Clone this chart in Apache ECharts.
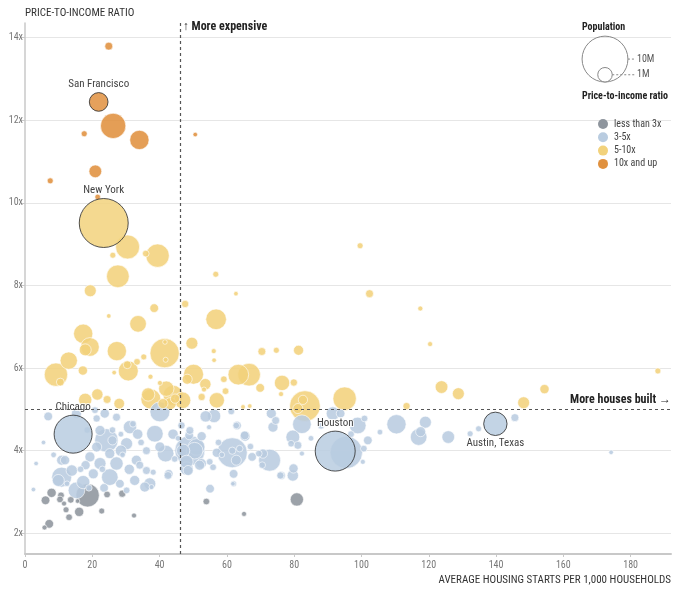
<!DOCTYPE html>
<html>
<head>
<meta charset="utf-8">
<style>
  html, body { margin: 0; padding: 0; background: #fff; }
  #chart { width: 680px; height: 594px; }
</style>
<script src="https://cdn.jsdelivr.net/npm/echarts@6/dist/echarts.min.js"></script>
</head>
<body>
<div id="chart"></div>
<script type="text/javascript">
    // [housing starts per 1,000 households, price-to-income ratio, population in millions]
    var metros = [
        // 10x and up
        [24.9, 13.79, 0.30], [26.2, 11.86, 3.05], [17.6, 11.67, 0.17], [34.0, 11.52, 1.77],
        [50.6, 11.65, 0.10], [20.9, 10.76, 0.77], [7.5, 10.53, 0.17], [21.6, 10.14, 0.15],
        // 5-10x
        [30.5, 8.93, 2.74], [39.4, 8.72, 2.6], [35.9, 8.77, 0.21], [26.1, 8.73, 0.17],
        [27.6, 8.22, 2.45], [19.4, 7.87, 0.68], [56.7, 8.27, 0.17], [62.7, 7.8, 0.1],
        [38.4, 7.45, 0.36], [47.6, 7.55, 0.25], [24.9, 7.26, 0.1], [33.6, 7.07, 1.32],
        [56.8, 7.18, 2.03], [17.3, 6.83, 1.77], [19.3, 6.51, 1.66], [17.9, 6.44, 0.68],
        [27.3, 6.41, 1.77], [41.5, 6.36, 4.08], [41.6, 6.63, 0.1], [41.8, 6.2, 0.12],
        [49.6, 6.6, 0.68], [56.1, 6.41, 0.12], [56.2, 6.19, 0.1], [13.0, 6.18, 1.43],
        [9.2, 5.84, 2.6], [10.5, 5.66, 0.3], [17.2, 5.94, 0.41], [26.5, 5.89, 0.1],
        [30.7, 5.93, 1.9], [30.4, 6.08, 0.3], [33.3, 6.15, 0.21], [35.3, 6.27, 0.17],
        [37.3, 5.79, 0.12], [50.1, 5.85, 1.9], [53.6, 5.61, 0.61], [53.2, 5.48, 0.12],
        [59.1, 5.73, 0.21], [59.6, 5.44, 0.21], [63.4, 5.84, 2.03], [66.6, 5.84, 2.45],
        [57.0, 5.22, 1.12], [48.2, 5.73, 0.48], [17.9, 5.23, 0.84], [21.5, 5.36, 0.61],
        [24.4, 5.24, 0.3], [28.0, 5.14, 0.54], [36.6, 5.36, 0.84], [37.4, 5.25, 1.9],
        [40.1, 5.64, 0.12], [42.0, 5.5, 1.12], [44.0, 5.34, 1.9], [44.6, 5.26, 0.41],
        [43.2, 5.14, 0.68], [41.0, 5.14, 0.48], [46.8, 5.22, 1.32], [52.5, 5.3, 0.25],
        [99.6, 8.96, 0.17], [102.4, 7.8, 0.3], [117.5, 7.44, 0.12], [120.4, 6.58, 0.12],
        [70.4, 6.4, 0.3], [74.7, 6.43, 0.17], [81.3, 6.43, 0.48], [69.9, 5.52, 0.36],
        [76.4, 5.64, 1.12], [79.9, 5.65, 0.25], [76.1, 5.37, 0.12], [83.2, 5.08, 4.47],
        [82.6, 5.23, 0.41], [81.1, 5.02, 0.48], [95.0, 5.26, 2.6], [113.4, 5.08, 0.25],
        [123.8, 5.54, 0.77], [128.8, 5.38, 0.68], [188.1, 5.93, 0.17], [154.4, 5.49, 0.41],
        [148.2, 5.16, 0.68], [66.8, 5.08, 0.1], [64.8, 5.06, 0.1],
        // 3-5x
        [95.5, 3.96, 5.0], [6.9, 4.83, 0.36], [3.3, 3.69, 0.1], [2.5, 3.06, 0.1],
        [110.4, 4.64, 1.77], [117.0, 4.33, 1.32], [119.0, 4.69, 0.68], [117.6, 4.46, 0.48],
        [125.8, 4.33, 0.77], [132.3, 4.41, 0.17], [134.8, 4.53, 0.17], [145.6, 4.8, 0.3],
        [174.2, 3.96, 0.1], [82.3, 4.64, 1.66], [79.6, 4.33, 0.92], [81.1, 4.13, 0.3],
        [79.1, 4.17, 0.21], [82.3, 3.93, 0.12], [79.8, 3.57, 0.41], [79.6, 3.4, 0.61],
        [76.2, 3.4, 0.3], [98.9, 4.61, 1.32], [100.9, 4.78, 0.21], [101.9, 4.25, 0.36],
        [100.7, 4.05, 0.21], [100.4, 3.73, 0.12], [91.5, 4.9, 0.84], [93.8, 4.9, 0.36],
        [96.9, 4.4, 0.21], [55.0, 3.08, 0.36], [62.0, 3.2, 0.17], [62.0, 3.44, 0.36],
        [61.6, 3.95, 4.28], [62.8, 3.77, 0.48], [63.8, 4.05, 0.21], [61.6, 4.0, 0.25],
        [63.0, 4.61, 0.36], [65.4, 4.35, 0.48], [56.2, 4.84, 0.84], [53.7, 4.83, 0.61],
        [54.7, 4.57, 0.12], [61.3, 4.95, 0.21], [73.2, 4.9, 0.48], [74.5, 4.73, 0.3],
        [73.7, 4.57, 0.48], [72.7, 3.77, 2.3], [70.7, 3.93, 0.41], [69.5, 3.93, 0.21],
        [70.5, 3.65, 0.21], [75.9, 3.4, 0.25], [49.0, 4.0, 4.28], [41.8, 3.93, 1.32],
        [51.0, 4.09, 1.32], [47.0, 4.0, 0.84], [48.0, 3.57, 0.84], [52.4, 3.69, 0.48],
        [54.9, 3.73, 0.21], [42.7, 3.44, 0.36], [38.1, 3.48, 0.17], [37.6, 3.12, 0.12],
        [38.6, 4.41, 1.32], [48.8, 4.37, 0.36], [49.0, 4.49, 0.3], [46.5, 4.61, 0.25],
        [40.1, 4.94, 1.9], [10.9, 3.36, 1.9], [15.3, 3.04, 1.32], [17.3, 3.24, 0.84],
        [13.9, 3.52, 0.61], [11.9, 3.77, 0.41], [24.2, 4.25, 2.6], [25.2, 3.36, 1.32],
        [22.3, 4.49, 0.48], [30.2, 4.17, 0.68], [31.2, 4.57, 0.84], [22.3, 3.69, 0.68],
        [27.2, 3.69, 0.84], [28.2, 3.2, 0.36], [32.6, 3.28, 0.48], [20.3, 3.44, 0.48],
        [19.3, 3.85, 0.48], [21.3, 4.09, 0.48], [25.2, 3.93, 0.48], [33.1, 3.77, 0.48],
        [34.1, 3.65, 0.3], [36.1, 3.52, 0.3], [37.1, 3.2, 0.68], [35.6, 3.12, 0.48],
        [30.2, 3.04, 0.21], [32.1, 4.65, 0.21], [27.2, 4.81, 0.3], [23.7, 4.9, 0.41],
        [21.3, 4.78, 0.25], [20.8, 4.98, 0.21], [36.1, 4.0, 0.3], [40.1, 4.09, 0.48],
        [42.5, 3.4, 0.3], [48.0, 3.73, 0.84], [48.5, 3.52, 0.48], [50.4, 4.0, 1.32],
        [51.9, 3.65, 0.48], [15.3, 4.9, 0.48], [10.9, 3.77, 0.48], [9.9, 3.28, 0.68],
        [65.3, 4.37, 0.36], [62.8, 4.61, 0.21], [55.9, 3.6, 0.21], [61.8, 3.2, 0.1],
        [18.5, 4.5, 0.2], [26.0, 4.5, 0.2], [29.0, 3.9, 0.15], [23.0, 3.55, 0.2],
        [19.0, 3.1, 0.2], [12.5, 3.2, 0.15], [16.5, 3.55, 0.2], [28.5, 4.4, 0.15],
        [34.5, 4.2, 0.2], [44.5, 3.8, 0.2], [45.5, 4.3, 0.15], [57.5, 4.2, 0.2],
        [58.5, 3.9, 0.15], [67.0, 4.1, 0.2], [85.0, 4.3, 0.15], [88.0, 4.6, 0.2],
        [105.5, 4.45, 0.15], [8.5, 3.9, 0.15], [5.5, 4.2, 0.1],
        [28.5, 4.0, 0.6], [33.5, 4.4, 0.5], [26.0, 4.25, 0.4], [31.0, 3.55, 0.5],
        [18.0, 3.65, 0.4], [23.5, 3.1, 0.35], [44.0, 4.4, 0.5], [52.5, 4.35, 0.4],
        [57.0, 3.95, 0.4], [67.5, 3.85, 0.35],
        // less than 3x
        [6.1, 2.8, 0.36], [7.9, 2.98, 0.41], [10.7, 2.92, 0.21], [10.4, 2.82, 0.21],
        [11.6, 2.72, 0.12], [12.2, 2.57, 0.17], [13.1, 2.39, 0.21], [7.2, 2.23, 0.36],
        [5.8, 2.14, 0.12], [16.1, 2.52, 0.41], [13.6, 2.81, 0.21], [18.6, 2.92, 2.6],
        [15.6, 2.78, 0.1], [22.8, 2.54, 0.17], [24.4, 2.94, 0.21], [28.9, 2.96, 0.25],
        [32.4, 2.43, 0.12], [53.9, 2.77, 0.21], [65.1, 2.47, 0.12], [80.8, 2.82, 0.84]
    ];

    var cityNames = ['New York', 'Chicago', 'Houston', 'San Francisco', 'Austin, Texas'];
    var cityValues = [[23.4, 9.51, 11.4], [14.3, 4.4, 6.87], [92.2, 3.99, 7.6], [21.9, 12.44, 1.66], [139.8, 4.65, 2.6]];
    var cityLabelSide = ['top', 'top', 'top', 'top', 'bottom'];

    var ratioBands = ['less than 3x', '3-5x', '5-10x', '10x and up'];
    var yTicks = [2, 4, 6, 8, 10, 12, 14];
    var xTicks = [0, 20, 40, 60, 80, 100, 120, 140, 160, 180];
    var legendPops = [10, 1];
    var splitX = 46, splitY = 5;

    var font = "'Liberation Sans Narrow', 'Roboto Condensed', Roboto, 'Liberation Sans', sans-serif";

    function bubbleSize(v) {
        return 14.5 * Math.sqrt(v[2]);
    }

    var sorted = metros.slice().sort(function (a, b) { return b[2] - a[2]; });

    var cities = cityValues.map(function (v, i) {
        return {
            name: cityNames[i],
            value: v,
            label: { show: true, position: cityLabelSide[i] }
        };
    });

    var chart = echarts.init(document.getElementById('chart'));

    var option = {
        animation: false,
        textStyle: { fontFamily: font },
        grid: { left: 25, right: 9, top: 23, bottom: 40 },
        xAxis: {
            type: 'value',
            min: 0,
            max: 192,
            name: 'AVERAGE HOUSING STARTS PER 1,000 HOUSEHOLDS',
            nameLocation: 'end',
            nameGap: 0,
            nameTextStyle: {
                align: 'right', verticalAlign: 'top', padding: [21, 0, 0, 0],
                fontSize: 11, color: '#333', fontFamily: font
            },
            axisLine: { lineStyle: { color: '#c8c8c8', width: 2 } },
            axisTick: { customValues: xTicks, length: 3, lineStyle: { color: '#c8c8c8' } },
            axisLabel: { customValues: xTicks, color: '#777', fontSize: 10, margin: 6 },
            splitLine: { show: false }
        },
        yAxis: {
            type: 'value',
            min: 1.5,
            max: 14.35,
            name: 'PRICE-TO-INCOME RATIO',
            nameLocation: 'end',
            nameGap: 10,
            nameTextStyle: {
                align: 'left', verticalAlign: 'middle',
                fontSize: 11, color: '#333', fontFamily: font
            },
            axisLine: { show: true, lineStyle: { color: '#c8c8c8', width: 1.5 } },
            axisTick: { show: true, customValues: yTicks, length: 4, lineStyle: { color: '#c8c8c8' } },
            axisLabel: {
                customValues: yTicks, color: '#777', fontSize: 10, margin: 2,
                formatter: '{value}x'
            },
            splitLine: { show: true, lineStyle: { color: '#e6e6e6', width: 1 } }
        },
        visualMap: {
            type: 'piecewise',
            dimension: 1,
            seriesIndex: [0, 1],
            orient: 'vertical',
            inverse: true,
            align: 'left',
            left: 583,
            top: 104,
            itemWidth: 10,
            itemHeight: 10,
            itemGap: 3.3,
            itemSymbol: 'circle',
            textGap: 6,
            textStyle: { color: '#444', fontSize: 10, fontFamily: font },
            pieces: [
                { lt: 3, color: '#8e959d', label: ratioBands[0] },
                { gte: 3, lt: 5, color: '#b9cce0', label: ratioBands[1] },
                { gte: 5, lt: 10, color: '#f2d27c', label: ratioBands[2] },
                { gte: 10, color: '#e0913f', label: ratioBands[3] }
            ]
        },
        series: [
            {
                type: 'scatter',
                data: sorted,
                symbolSize: bubbleSize,
                itemStyle: { opacity: 0.88, borderColor: 'rgba(255,255,255,0.85)', borderWidth: 0.8 },
                markLine: {
                    silent: true,
                    symbol: ['none', 'none'],
                    label: { show: false },
                    lineStyle: { color: '#555', type: [3, 3], width: 1.2 },
                    data: [{ xAxis: splitX }, { yAxis: splitY }]
                }
            },
            {
                type: 'scatter',
                data: cities,
                symbolSize: bubbleSize,
                itemStyle: { opacity: 0.85, borderColor: '#333', borderWidth: 1 },
                label: {
                    color: '#222', fontSize: 11, distance: 2, fontFamily: font,
                    formatter: '{b}', textBorderColor: '#fff', textBorderWidth: 2
                }
            }
        ]
    };

    chart.setOption(option);

    // annotations and population key
    var lineTop = chart.convertToPixel({ gridIndex: 0 }, [splitX, 14.35]);
    var lineRight = chart.convertToPixel({ gridIndex: 0 }, [192, splitY]);
    var rBig = bubbleSize([0, 0, legendPops[0]]) / 2;
    var rSmall = bubbleSize([0, 0, legendPops[1]]) / 2;
    var cx = 605, base = 82;

    chart.setOption({
        graphic: [
            {
                type: 'text', x: lineTop[0] + 3, y: lineTop[1] + 4,
                style: { text: '\u2191 More expensive', font: 'bold 12px ' + font, fill: '#222', verticalAlign: 'middle' }
            },
            {
                type: 'text', x: lineRight[0], y: lineRight[1] - 3,
                style: { text: 'More houses built \u2192', font: 'bold 12px ' + font, fill: '#222', align: 'right', verticalAlign: 'bottom' }
            },
            {
                type: 'text', x: 582, y: 27,
                style: { text: 'Population', font: 'bold 10px ' + font, fill: '#222', verticalAlign: 'middle' }
            },
            {
                type: 'text', x: 582, y: 96,
                style: { text: 'Price-to-income ratio', font: 'bold 10px ' + font, fill: '#222', verticalAlign: 'middle' }
            },
            {
                type: 'circle', shape: { cx: cx, cy: base - rBig, r: rBig },
                style: { fill: 'none', stroke: '#888', lineWidth: 1 }
            },
            {
                type: 'circle', shape: { cx: cx, cy: base - rSmall, r: rSmall },
                style: { fill: '#fff', stroke: '#888', lineWidth: 1 }
            },
            {
                type: 'line', shape: { x1: cx + rBig, y1: base - rBig, x2: 635, y2: base - rBig },
                style: { stroke: '#888', lineDash: [2, 2], lineWidth: 1 }
            },
            {
                type: 'line', shape: { x1: cx + rSmall, y1: base - rSmall, x2: 635, y2: base - rSmall },
                style: { stroke: '#888', lineDash: [2, 2], lineWidth: 1 }
            },
            {
                type: 'text', x: 637, y: base - rBig,
                style: { text: legendPops[0] + 'M', font: '10px ' + font, fill: '#555', verticalAlign: 'middle' }
            },
            {
                type: 'text', x: 637, y: base - rSmall,
                style: { text: legendPops[1] + 'M', font: '10px ' + font, fill: '#555', verticalAlign: 'middle' }
            }
        ]
    });
</script>
</body>
</html>
